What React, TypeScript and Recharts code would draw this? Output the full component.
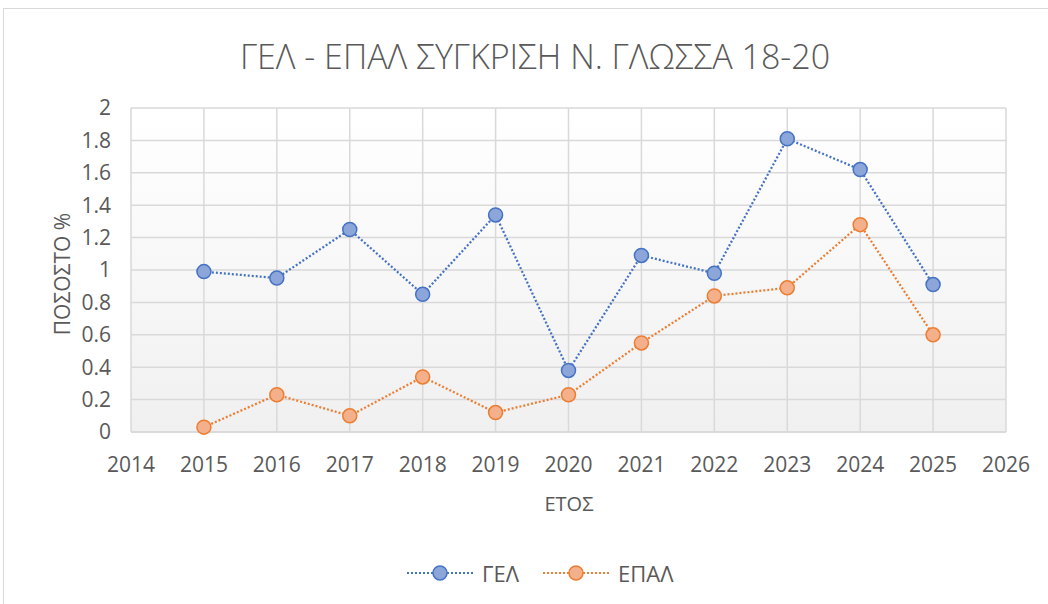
import React from "react";
import { LineChart, Line, XAxis, YAxis, CartesianGrid } from "recharts";

const years = [2015, 2016, 2017, 2018, 2019, 2020, 2021, 2022, 2023, 2024, 2025];
const gel = [0.99, 0.95, 1.25, 0.85, 1.34, 0.38, 1.09, 0.98, 1.81, 1.62, 0.91];
const epal = [0.03, 0.23, 0.1, 0.34, 0.12, 0.23, 0.55, 0.84, 0.89, 1.28, 0.6];
const xTicks = [2014, 2015, 2016, 2017, 2018, 2019, 2020, 2021, 2022, 2023, 2024, 2025, 2026];
const yTicks = [0, 0.2, 0.4, 0.6, 0.8, 1, 1.2, 1.4, 1.6, 1.8, 2];
const seriesNames = ["ΓΕΛ", "ΕΠΑΛ"];

const data = years.map((y, i) => ({ year: y, gel: gel[i], epal: epal[i] }));

const FONT = "'Open Sans', 'Noto Sans', sans-serif";
const TXT = "#595959";

const colors = [
  { stroke: "#4472C4", fill: "#8DA6DA" },
  { stroke: "#ED7D31", fill: "#F4B08A" },
];

const legendLeft = [407, 543];

export default function App() {
  return (
    <div style={{ position: "absolute", left: 0, top: 0, width: 1048, height: 604, background: "#fff", overflow: "hidden" }}>
      <div style={{ position: "absolute", left: 3, top: 8, width: 1100, height: 700, border: "1px solid #d9d9d9", boxSizing: "border-box" }} />
      <div style={{ position: "absolute", left: 0, top: 32, width: 1070, textAlign: "center", fontFamily: FONT, fontSize: 34, lineHeight: "48px", color: TXT, fontWeight: 300 }}>
        ΓΕΛ - ΕΠΑΛ ΣΥΓΚΡΙΣΗ Ν. ΓΛΩΣΣΑ 18-20
      </div>
      <div style={{ position: "absolute", left: 0, top: 0 }}>
        <LineChart width={1048} height={604} data={data} margin={{ top: 108, right: 42, bottom: 142, left: 41 }}>
          <defs>
            <linearGradient id="bg" x1="0" y1="0" x2="0" y2="1">
              <stop offset="0%" stopColor="#ffffff" />
              <stop offset="100%" stopColor="#f0f0f0" />
            </linearGradient>
          </defs>
          <CartesianGrid stroke="#d9d9d9" strokeWidth={1.5} fill="url(#bg)" />
          <XAxis
            dataKey="year"
            type="number"
            domain={[2014, 2026]}
            ticks={xTicks}
            interval={0}
            axisLine={{ stroke: "#d9d9d9", strokeWidth: 1.5 }}
            tickLine={false}
            tick={{ fill: TXT, fontSize: 21, fontFamily: FONT }}
            tickMargin={19}
          />
          <YAxis
            type="number"
            domain={[0, 2]}
            ticks={yTicks}
            interval={0}
            width={90}
            axisLine={false}
            tickLine={false}
            tick={{ fill: TXT, fontSize: 21, fontFamily: FONT }}
            tickMargin={14}
          />
          <Line
            dataKey="gel"
            name={seriesNames[0]}
            stroke={colors[0].stroke}
            strokeWidth={2.25}
            strokeDasharray="2 2"
            dot={{ r: 7, fill: colors[0].fill, stroke: colors[0].stroke, strokeWidth: 1.5, strokeDasharray: "" }}
            isAnimationActive={false}
          />
          <Line
            dataKey="epal"
            name={seriesNames[1]}
            stroke={colors[1].stroke}
            strokeWidth={2.25}
            strokeDasharray="2 2"
            dot={{ r: 7, fill: colors[1].fill, stroke: colors[1].stroke, strokeWidth: 1.5, strokeDasharray: "" }}
            isAnimationActive={false}
          />
        </LineChart>
      </div>
      <div style={{ position: "absolute", left: 569, top: 503, transform: "translate(-50%, -50%)", fontFamily: FONT, fontSize: 20, color: TXT, whiteSpace: "nowrap" }}>
        ΕΤΟΣ
      </div>
      <div style={{ position: "absolute", left: 62, top: 274, transform: "translate(-50%, -50%) rotate(-90deg)", fontFamily: FONT, fontSize: 21, color: TXT, whiteSpace: "nowrap" }}>
        ΠΟΣΟΣΤΟ %
      </div>
      {seriesNames.map((n, i) => (
        <div key={n} style={{ position: "absolute", left: legendLeft[i], top: 559, height: 28, display: "flex", alignItems: "center", fontFamily: FONT, fontSize: 22, color: TXT }}>
          <svg width={66} height={20}>
            <line x1={0} y1={10} x2={66} y2={10} stroke={colors[i].stroke} strokeWidth={2} strokeDasharray="2 2" />
            <circle cx={33} cy={10} r={7} fill={colors[i].fill} stroke={colors[i].stroke} strokeWidth={1.5} />
          </svg>
          <span style={{ marginLeft: 9 }}>{n}</span>
        </div>
      ))}
    </div>
  );
}
